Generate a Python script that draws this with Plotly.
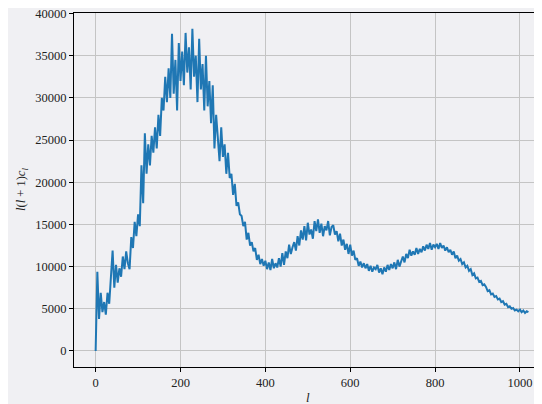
import plotly.graph_objects as go

# multipole l, sampled every 4
ell = list(range(0, 1024, 4))

# l(l+1)c_l (256 values)
cl_scaled = [
    0, 9400, 3800, 6900, 4600, 5800, 4300, 6900, 5600, 8800,
    11900, 7500, 10200, 8100, 9800, 8800, 11200, 9700, 11800, 10400,
    9700, 13500, 12200, 15300, 13600, 16200, 14800, 22000, 17500, 25800,
    21000, 24500, 22000, 25500, 23500, 26500, 24000, 28000, 25500, 30000,
    28500, 32500, 29500, 33500, 30000, 37600, 30500, 34500, 28500, 36500,
    32000, 35500, 31500, 37700, 33000, 36000, 31000, 38200, 32500, 35000,
    29500, 37000, 31000, 34000, 28500, 35000, 29000, 32000, 27000, 31500,
    24000, 28000, 25000, 22500, 26500, 23000, 24500, 21000, 23500, 20500,
    21000, 18500, 19800, 17200, 17600, 16200, 16000, 14800, 15300, 13200,
    14000, 12500, 12900, 11800, 12200, 10800, 11400, 10300, 10900, 10100,
    10700, 9700, 10500, 9600, 10900, 9800, 10400, 9900, 11000, 10000,
    11600, 10200, 11800, 11000, 12600, 11500, 12300, 12900, 11900, 13600,
    12500, 14300, 13200, 14800, 13100, 15200, 13800, 14400, 13300, 15400,
    14200, 15600, 14000, 15100, 13600, 14800, 14300, 15400, 13700, 14700,
    14900, 13800, 14200, 13000, 13900, 12500, 13200, 12000, 12700, 11500,
    12600, 11300, 11900, 10800, 11000, 10100, 10600, 9900, 10400, 9800,
    10300, 9500, 10100, 9400, 9900, 9700, 10200, 9300, 9800, 9100,
    9900, 9400, 10200, 9600, 10300, 9800, 10500, 9700, 10800, 10000,
    10600, 11200, 10500, 11500, 11000, 12000, 11300, 11800, 11400, 12200,
    11500, 12100, 11700, 12400, 11900, 12600, 12100, 12800, 12000, 12600,
    12300, 12700, 12100, 12800, 12200, 12500, 11900, 12300, 11700, 12000,
    11400, 11800, 11000, 11300, 10700, 10900, 10300, 10500, 9900, 10100,
    9500, 9700, 9000, 9200, 8600, 8700, 8200, 8300, 7800, 7900,
    7600, 7100, 7200, 6700, 6800, 6400, 6500, 6100, 6200, 5800,
    5900, 5500, 5600, 5200, 5300, 5000, 5100, 4800, 4900, 4700,
    4900, 4600, 4800, 4500, 4700, 4600,
]

x_ticks = [0, 200, 400, 600, 800, 1000]
y_ticks = [0, 5000, 10000, 15000, 20000, 25000, 30000, 35000, 40000]

BG = "#f0f0f3"
FONT = "Liberation Serif"

fig = go.Figure(
    go.Scatter(
        x=ell, y=cl_scaled, mode="lines",
        line=dict(color="#1f77b4", width=2),
        hoverinfo="skip",
    )
)

# page body has an 8px default margin, so the figure is 8px smaller
fig.update_layout(
    width=534, height=396,
    margin=dict(l=66, r=0, t=5, b=37, autoexpand=False),
    paper_bgcolor=BG, plot_bgcolor=BG,
    showlegend=False,
    font=dict(family=FONT, size=12.5, color="#222222"),
)

fig.update_xaxes(
    range=[-51, 1052], automargin=False,
    tickvals=x_ticks, ticktext=[str(v) for v in x_ticks],
    showline=True, linecolor="black", linewidth=1.2, mirror=True,
    ticks="outside", ticklen=4, tickcolor="black",
    showgrid=True, gridcolor="#c4c4c4", gridwidth=1,
    zeroline=False, ticklabeloverflow="allow",
)
fig.update_yaxes(
    range=[-1900, 40060], automargin=False,
    tickvals=y_ticks, ticktext=[str(v) for v in y_ticks],
    showline=True, linecolor="black", linewidth=1.2, mirror=False,
    ticks="outside", ticklen=4, tickcolor="black",
    showgrid=True, gridcolor="#c4c4c4", gridwidth=1,
    zeroline=False, ticklabeloverflow="allow",
)

# axis titles as annotations for precise placement
fig.add_annotation(
    text="<i>l</i>", xref="paper", yref="paper", x=0.5, y=0,
    yshift=-21, showarrow=False, yanchor="top",
    font=dict(family=FONT, size=13, color="#222222"),
)
fig.add_annotation(
    text="<i>l</i>(<i>l</i> + 1)<i>c<sub>l</sub></i>",
    xref="paper", yref="paper", x=0, y=0.5, xshift=-52,
    textangle=-90, showarrow=False, xanchor="center", yanchor="middle",
    font=dict(family=FONT, size=12.5, color="#222222"),
)

fig.write_html("out.html")
